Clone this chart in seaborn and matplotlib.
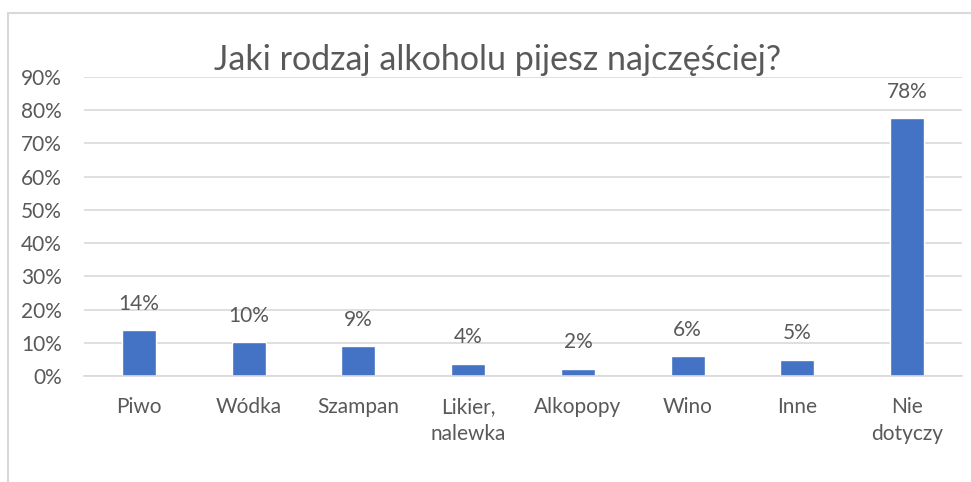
import matplotlib
matplotlib.use("Agg")
import matplotlib.pyplot as plt
import matplotlib.patches as patches
from matplotlib.ticker import PercentFormatter
import seaborn as sns
import pandas as pd

# Data
categories = ["Piwo", "Wódka", "Szampan", "Likier,\nnalewka", "Alkopopy", "Wino", "Inne", "Nie\ndotyczy"]
shares = [0.137, 0.101, 0.089, 0.036, 0.021, 0.059, 0.048, 0.776]
title = "Jaki rodzaj alkoholu pijesz najczęściej?"

df = pd.DataFrame({"kategoria": categories, "udzial": shares})

sns.set_theme(style="white")
plt.rcParams["font.family"] = ["Lato", "DejaVu Sans"]

grey = "#595959"
line = "#D9D9D9"

fig = plt.figure(figsize=(9.71, 4.82), dpi=100)
ax = fig.add_axes([84 / 971, 1 - 376 / 482, 878 / 971, 299 / 482])

sns.barplot(data=df, x="kategoria", y="udzial", color="#4472C4", width=0.31,
            saturation=1, ax=ax)

ax.set_ylim(0, 0.9)
ax.set_yticks([i / 10 for i in range(10)])
ax.yaxis.set_major_formatter(PercentFormatter(1.0, decimals=0))
ax.set_xlim(-0.5, len(categories) - 0.5)
ax.grid(axis="y", color=line, linewidth=1.2)
ax.set_axisbelow(True)
for side in ["top", "right", "left"]:
    ax.spines[side].set_visible(False)
ax.spines["bottom"].set_color(line)
ax.spines["bottom"].set_linewidth(1.2)
ax.tick_params(axis="both", length=0, labelsize=15, labelcolor=grey)
ax.tick_params(axis="y", pad=16)
ax.tick_params(axis="x", pad=15)
for lbl in ax.get_xticklabels():
    lbl.set_linespacing(1.45)
ax.set_xlabel("")
ax.set_ylabel("")

ax.bar_label(ax.containers[0], labels=[f"{v:.0%}" for v in shares],
             padding=12, fontsize=15, color=grey)

fig.text(0.512, 1 - 70 / 482, title, ha="center", va="baseline", fontsize=24.5, color=grey)

# chart frame like the Excel chart area
frame = patches.Rectangle((8 / 971, -0.1), 1.0, 1.1 - 13 / 482, transform=fig.transFigure,
                          fill=False, edgecolor=line, linewidth=1.5)
fig.patches.append(frame)

fig.savefig("out.png", dpi=100)
plt.close(fig)
